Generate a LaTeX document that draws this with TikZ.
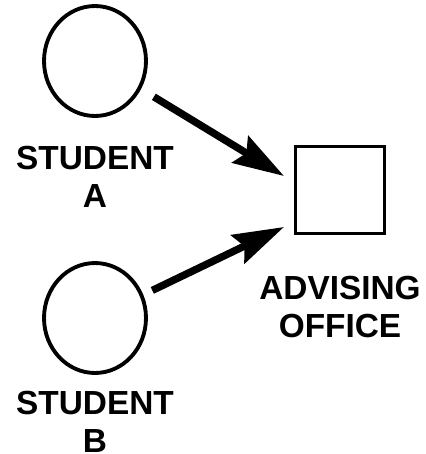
\documentclass[tikz,border=0pt]{standalone}
\usepackage{fontspec}
\setmainfont{Liberation Sans}
\usetikzlibrary{shapes.geometric,arrows.meta}

\begin{document}
\begin{tikzpicture}[x=0.02cm, y=-0.02cm, thick,
  person/.style={ellipse,draw,line width=2.2pt,minimum width=2.04cm,minimum height=2.2cm,inner sep=0pt},
  place/.style={rectangle,draw,line width=2pt,minimum width=1.78cm,minimum height=1.74cm,inner sep=0pt},
  tag/.style={align=center,inner sep=0pt,anchor=north,font=\bfseries\fontsize{19}{22}\selectfont},
  flow/.style={line width=4.2pt,-{Stealth[length=1.02cm,width=0.62cm,inset=0.14cm]}}]

  \useasboundingbox (0,0) rectangle (426,454);

  \node[person] at (95, 61) (studA) {};
  \node[person] at (95, 318) (studB) {};
  \node[place] at (340, 190) (office) {};

  \node[tag] at (95, 145) (tagA) {STUDENT\\A};
  \node[tag] at (95, 390) (tagB) {STUDENT\\B};
  \node[tag] at (340, 275) (tagO) {ADVISING\\OFFICE};

  % arrow tips stop short of the office box
  \coordinate (tipA) at (284, 176);
  \coordinate (tipB) at (284, 227);

  \draw[flow, shorten <=0.3cm] (studA) -- (tipA);
  \draw[flow, shorten <=0.2cm] (studB) -- (tipB);

\end{tikzpicture}
\end{document}
